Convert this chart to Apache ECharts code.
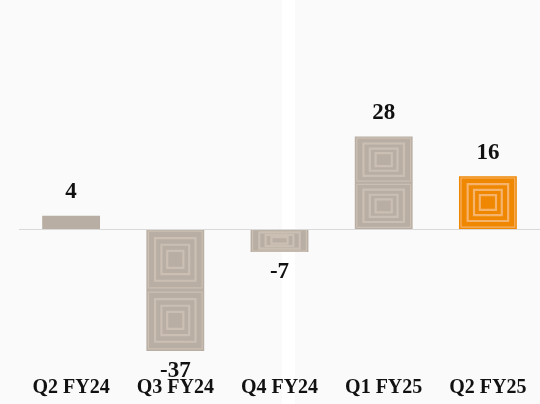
<!DOCTYPE html>
<html>
<head>
<meta charset="utf-8">
<script src="https://cdn.jsdelivr.net/npm/echarts@6/dist/echarts.min.js"></script>
<style>
  html, body { margin: 0; padding: 0; background: #ffffff; }
  #main { width: 540px; height: 404px; }
</style>
</head>
<body>
<div id="main"></div>
<script>
// 季度
var quarters = ['Q2 FY24', 'Q3 FY24', 'Q4 FY24', 'Q1 FY25', 'Q2 FY25'];
// 各季度数值
var values = [4, -37, -7, 28, 16];

var grayBase = '#b9aea3';
var grayLine = '#cbbfb3';
var orangeBase = '#ef8700';
var orangeLine = '#f6b36c';
var lastIdx = quarters.length - 1;

var myChart = echarts.init(document.getElementById('main'));

// 同心方块纹理
function renderPattern(params, api) {
    var i = api.value(0);
    var v = api.value(1);
    var p0 = api.coord([i, 0]);
    var p1 = api.coord([i, v]);
    var w = api.size([1, 0])[0] * 0.555;
    var x = p0[0] - w / 2;
    var top = Math.min(p0[1], p1[1]);
    var h = Math.abs(p1[1] - p0[1]);
    if (h < 16) return;
    var n = Math.max(1, Math.round(h / 55));
    var th = h / n;
    var stroke = i === lastIdx ? orangeLine : grayLine;
    var fracs = [0.07, 0.3, 0.52, 0.72];
    var children = [];
    for (var k = 0; k < n; k++) {
        var ty = top + k * th;
        fracs.forEach(function (f, j) {
            var dx = f * w / 2, dy = f * th / 2;
            children.push({
                type: 'rect',
                shape: { x: x + dx, y: ty + dy, width: w - 2 * dx, height: th - 2 * dy },
                style: { fill: null, stroke: stroke, lineWidth: j === 0 ? 1.2 : 2.2 }
            });
        });
    }
    return { type: 'group', children: children };
}

var option = {
    animation: false,
    graphic: [
        { type: 'rect', z: -100, silent: true, shape: { x: 0, y: 0, width: 282, height: 404 }, style: { fill: '#fafafa' } },
        { type: 'rect', z: -100, silent: true, shape: { x: 295, y: 0, width: 245, height: 404 }, style: { fill: '#fafafa' } }
    ],
    grid: { left: 19, right: -1, top: 97, bottom: 30 },
    xAxis: {
        type: 'category',
        data: quarters,
        position: 'bottom',
        axisLine: { show: false, onZero: false },
        axisTick: { show: false },
        axisLabel: {
            margin: 4,
            fontFamily: 'Liberation Serif',
            fontWeight: 'bold',
            fontSize: 20,
            color: '#111111'
        }
    },
    yAxis: {
        type: 'value',
        min: -44,
        max: 40,
        show: false
    },
    series: [{
        type: 'bar',
        data: values.map(function (v) {
            // 负值标签放在下方
            return v < 0 ? { value: v, label: { position: 'bottom', distance: 9 } } : v;
        }),
        barWidth: '55.5%',
        itemStyle: {
            color: function (p) { return p.dataIndex === lastIdx ? orangeBase : grayBase; }
        },
        label: {
            show: true,
            fontFamily: 'Liberation Serif',
            fontWeight: 'bold',
            fontSize: 23,
            color: '#111111',
            distance: 12,
            position: 'top'
        },
        markLine: {
            silent: true,
            symbol: 'none',
            label: { show: false },
            lineStyle: { type: 'solid', color: '#d9d9d9', width: 1 },
            data: [{ yAxis: 0 }]
        }
    }, {
        type: 'custom',
        silent: true,
        renderItem: renderPattern,
        data: values.map(function (v, i) { return [i, v]; }),
        z: 3
    }]
};

myChart.setOption(option);
</script>
</body>
</html>
